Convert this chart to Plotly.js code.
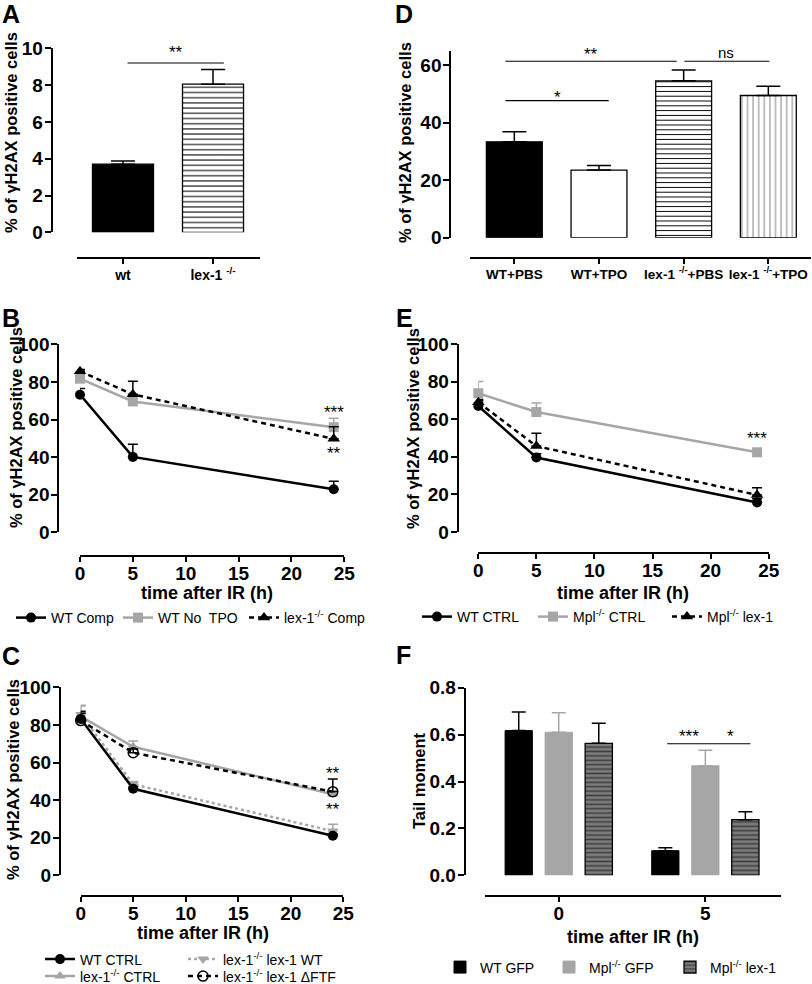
<!DOCTYPE html>
<html><head><meta charset="utf-8">
<script src="https://cdn.plot.ly/plotly-3.0.1.min.js"></script>
<style>html,body{margin:0;padding:0;background:#fff}#chart{width:812px;height:984px}</style>
</head><body><div id="chart"></div>
<script>
// ---------- DATA ----------
const aCats = ['wt', 'lex-1 <sup>-/-</sup>'];
const aMean = [3.7, 8.05];
const aSem = [0.17, 0.8];

const dCats = ['WT+PBS', 'WT+TPO', 'lex-1 <sup>-/-</sup>+PBS', 'lex-1 <sup>-/-</sup>+TPO'];
const dMean = [33.3, 23.5, 54.5, 49.4];
const dSem = [3.5, 1.6, 3.8, 3.2];

const timeH = [0, 5, 24];
const bWtComp = [73.2, 40.1, 22.9];   const bWtCompSem = [3.3, 6.7, 4.2];
const bWtNoTpo = [81.7, 69.6, 55.9];  const bWtNoTpoSem = [1.2, 1.5, 4.8];
const bLexComp = [85.6, 73.4, 49.7];  const bLexCompSem = [1.0, 6.9, 6.5];

const eWtCtrl = [67.0, 39.6, 15.7];   const eWtCtrlSem = [3.0, 2.0, 2.0];
const eMplCtrl = [73.8, 63.8, 42.4];  const eMplCtrlSem = [6.3, 4.8, 1.5];
const eMplLex = [69.0, 45.7, 19.7];   const eMplLexSem = [1.5, 6.8, 3.9];

const cWtCtrl = [83.2, 46.0, 21.0];   const cWtCtrlSem = [3.0, 1.0, 1.0];
const cLexCtrl = [84.5, 68.4, 43.1];  const cLexCtrlSem = [6.0, 3.1, 2.0];
const cLexWt = [85.5, 48.4, 23.5];    const cLexWtSem = [4.5, 1.5, 3.6];
const cLexDftf = [82.3, 65.2, 44.5];  const cLexDftfSem = [5.0, 2.0, 6.7];

const fGroups = ['0', '5'];
const fWtGfp = [0.617, 0.105];  const fWtGfpSem = [0.079, 0.013];
const fMplGfp = [0.610, 0.467]; const fMplGfpSem = [0.083, 0.066];
const fMplLex = [0.563, 0.237]; const fMplLexSem = [0.085, 0.034];

// ---------- HELPERS ----------
const W = 812, H = 984;
const px = v => v / W;
const py = v => 1 - v / H;
const FAM = 'Liberation Sans, Arial, sans-serif';
const GRAY = '#a6a6a6';
const tickFont = {family: FAM, size: 19, color: 'black', weight: 'bold'};
const catFont = {family: FAM, size: 14, color: 'black', weight: 'bold'};
const zeros = n => new Array(n).fill(0);
const errUp = (arr, color, w) => ({type: 'data', symmetric: false, array: arr, arrayminus: zeros(arr.length), color: color, thickness: 1.5, width: w});

function yAx(domTop, domBot, xpos, range, extra) {
  return Object.assign({domain: [py(domBot), py(domTop)], range: range, anchor: 'free', position: px(xpos),
    showline: true, linewidth: 2, linecolor: 'black', ticks: 'outside', ticklen: 6, tickwidth: 2, tickcolor: 'black',
    ticklabelstandoff: -2,
    showgrid: false, zeroline: false, tickfont: tickFont, fixedrange: true}, extra || {});
}
function xAx(l, r, ypos, range, extra) {
  return Object.assign({domain: [px(l), px(r)], range: range, anchor: 'free', position: py(ypos),
    showline: true, linewidth: 2, linecolor: 'black', ticks: 'outside', ticklen: 5, tickwidth: 2, tickcolor: 'black',
    ticklabelstandoff: -5,
    showgrid: false, zeroline: false, tickfont: tickFont, fixedrange: true}, extra || {});
}

const traces = [];
// Panel A (one trace per bar so each keeps its own fill)
const aFill = [{color: 'black'}, {color: 'white', pattern: {shape: '-', fgcolor: 'black', bgcolor: 'white', size: 5.2, solidity: 0.2}}];
aCats.forEach((c, i) => traces.push({type: 'bar', x: [c], y: [aMean[i]], xaxis: 'x', yaxis: 'y', width: 0.678, showlegend: false,
  marker: Object.assign({line: {color: 'black', width: 1.3}}, aFill[i]), error_y: errUp([aSem[i]], 'black', 12)}));
// Panel D
const dFill = [{color: 'black'}, {color: 'white'},
  {color: 'white', pattern: {shape: '-', fgcolor: 'black', bgcolor: 'white', size: 4.8, solidity: 0.2}},
  {color: 'white', pattern: {shape: '|', fgcolor: '#9a9a9a', bgcolor: 'white', size: 5.6, solidity: 0.22}}];
dCats.forEach((c, i) => traces.push({type: 'bar', x: [c], y: [dMean[i]], xaxis: 'x2', yaxis: 'y2', width: 0.66, showlegend: false,
  marker: Object.assign({line: {color: 'black', width: 1.3}}, dFill[i]), error_y: errUp([dSem[i]], 'black', 12)}));

const lineTrace = (x, y, sem, ax, name, legend, color, dash, symbol, msize, extra) => Object.assign({
  type: 'scatter', mode: 'lines+markers', x: x, y: y, xaxis: 'x' + ax, yaxis: 'y' + ax, name: name, legend: legend,
  line: {color: color, width: 2.5, dash: dash}, marker: {symbol: symbol, size: msize, color: color, line: {width: 0}},
  error_y: errUp(sem, color, 5), cliponaxis: false}, extra || {});

// Panel B
traces.push(lineTrace(timeH, bWtNoTpo, bWtNoTpoSem, 3, 'WT No  TPO', 'legend2', GRAY, 'solid', 'square', 10));
traces.push(lineTrace(timeH, bLexComp, bLexCompSem, 3, 'lex-1<sup>-/-</sup> Comp', 'legend3', 'black', '5px,4px', 'triangle-up', 11));
traces.push(lineTrace(timeH, bWtComp, bWtCompSem, 3, 'WT Comp', 'legend', 'black', 'solid', 'circle', 10));
// Panel E
traces.push(lineTrace(timeH, eMplCtrl, eMplCtrlSem, 4, 'Mpl<sup>-/-</sup> CTRL', 'legend5', GRAY, 'solid', 'square', 10));
traces.push(lineTrace(timeH, eMplLex, eMplLexSem, 4, 'Mpl<sup>-/-</sup> lex-1', 'legend6', 'black', '5px,4px', 'triangle-up', 11));
traces.push(lineTrace(timeH, eWtCtrl, eWtCtrlSem, 4, 'WT CTRL', 'legend4', 'black', 'solid', 'circle', 10));
// Panel C
traces.push(lineTrace(timeH, cLexCtrl, cLexCtrlSem, 5, 'lex-1<sup>-/-</sup> CTRL', 'legend9', GRAY, 'solid', 'triangle-up', 10));
traces.push(lineTrace(timeH, cLexWt, cLexWtSem, 5, 'lex-1<sup>-/-</sup> lex-1 WT', 'legend8', GRAY, 'dot', 'triangle-down', 10));
traces.push(lineTrace(timeH, cLexDftf, cLexDftfSem, 5, 'lex-1<sup>-/-</sup> lex-1 ΔFTF', 'legend10', 'black', '5px,4px', 'circle-open', 10,
  {marker: {symbol: 'circle-open', size: 10, color: 'black', line: {width: 1.5, color: 'black'}}}));
traces.push(lineTrace(timeH, cWtCtrl, cWtCtrlSem, 5, 'WT CTRL', 'legend7', 'black', 'solid', 'circle', 10));

// Panel F
traces.push({type: 'bar', x: fGroups, y: fWtGfp, xaxis: 'x6', yaxis: 'y6', name: 'WT GFP', legend: 'legend11',
  width: 0.186, offset: -0.366, marker: {color: 'black', line: {color: 'black', width: 1}}, error_y: errUp(fWtGfpSem, 'black', 7)});
traces.push({type: 'bar', x: fGroups, y: fMplGfp, xaxis: 'x6', yaxis: 'y6', name: 'Mpl<sup>-/-</sup> GFP', legend: 'legend12',
  width: 0.186, offset: -0.093, marker: {color: GRAY, line: {color: GRAY, width: 1}}, error_y: errUp(fMplGfpSem, GRAY, 7)});
traces.push({type: 'bar', x: fGroups, y: fMplLex, xaxis: 'x6', yaxis: 'y6', name: 'Mpl<sup>-/-</sup> lex-1', legend: 'legend13',
  width: 0.186, offset: 0.180, marker: {color: '#7c7c7c', line: {color: 'black', width: 1.3},
    pattern: {shape: '-', fgcolor: 'black', fillmode: 'overlay', size: 4.4, solidity: 0.35}}, error_y: errUp(fMplLexSem, 'black', 7)});

// ---------- ANNOTATIONS ----------
const ann = [];
const letter = (t, x, y) => ann.push({text: t, x: px(x), y: py(y), xref: 'paper', yref: 'paper', showarrow: false,
  xanchor: 'center', yanchor: 'middle', font: {family: FAM, size: 25, color: 'black', weight: 'bold'}});
letter('A', 11, 14); letter('D', 404, 14); letter('B', 11, 318); letter('E', 404, 318); letter('C', 11, 656); letter('F', 403, 655);

const yTitle = (t, x, y) => ann.push({text: t, x: px(x), y: py(y), xref: 'paper', yref: 'paper', showarrow: false, textangle: -90,
  xanchor: 'center', yanchor: 'middle', font: {family: FAM, size: 16.5, color: 'black', weight: 'bold'}});
const Y_T = '% of γH2AX positive cells';
yTitle(Y_T, 11, 133); yTitle(Y_T, 405, 143); yTitle(Y_T, 16, 428); yTitle(Y_T, 413, 428); yTitle(Y_T, 13, 780);
yTitle('Tail moment', 419, 781);

const xTitle = (t, x, y) => ann.push({text: t, x: px(x), y: py(y), xref: 'paper', yref: 'paper', showarrow: false,
  xanchor: 'center', yanchor: 'middle', font: {family: FAM, size: 18, color: 'black', weight: 'bold'}});
xTitle('time after IR (h)', 207, 592.5); xTitle('time after IR (h)', 623, 592.5);
xTitle('time after IR (h)', 203, 933); xTitle('time after IR (h)', 633, 937);

const star = (t, ax, x, y, size) => ann.push({text: t, x: x, y: y, xref: 'x' + ax, yref: 'y' + ax, showarrow: false,
  xanchor: 'center', yanchor: 'middle', font: {family: FAM, size: size || 17, color: 'black'}});
star('**', '', 0.59, 9.75);
star('**', 2, 0.905, 63.5); star('ns', 2, 2.5, 64.5, 15); star('*', 2, 0.504, 48.6);
star('***', 3, 24, 63.5); star('**', 3, 24, 42.0);
star('***', 4, 24, 50.0);
star('**', 5, 24, 54.0); star('**', 5, 24, 35.2);
star('***', 6, 0.887, 0.592); star('*', 6, 1.17, 0.592);

// significance lines
const shapes = [];
const sig = (ax, x0, x1, y) => shapes.push({type: 'line', xref: 'x' + ax, yref: 'y' + ax, x0: x0, x1: x1, y0: y, y1: y,
  line: {color: 'black', width: 1.2}});
sig('', 0.05, 1.12, 9.2);
sig(2, -0.106, 1.918, 61.3); sig(2, 2.008, 3.012, 61.3); sig(2, -0.106, 1.115, 47.6);
sig(6, 0.739, 1.307, 0.561);

const legFont = {family: FAM, size: 14, color: 'black'};
const leg = (x, y) => ({x: px(x), y: py(y), xanchor: 'left', yanchor: 'middle', orientation: 'h',
  font: legFont, bgcolor: 'rgba(0,0,0,0)', borderwidth: 0, itemwidth: 30});

const layout = {
  width: W, height: H, margin: {l: 0, r: 0, t: 0, b: 0, autoexpand: false},
  paper_bgcolor: 'white', plot_bgcolor: 'white', showlegend: true, barmode: 'overlay',
  font: {family: FAM, color: 'black'},
  xaxis: xAx(77, 260, 258, [-0.511, 1.522], {type: 'category', tickfont: catFont, ticklabelstandoff: -1}),
  yaxis: yAx(48.3, 232.3, 51.7, [0, 10], {dtick: 2}),
  xaxis2: xAx(470.3, 811, 257.7, [-0.52, 3.504], {type: 'category', tickfont: Object.assign({}, catFont, {size: 13.5}), ticklabelstandoff: -1}),
  yaxis2: yAx(50.6, 237.7, 450.3, [0, 65], {tickvals: [0, 20, 40, 60]}),
  xaxis3: xAx(80, 344.3, 555.7, [0, 25], {dtick: 5}),
  yaxis3: yAx(344.3, 532.3, 58.3, [0, 100], {dtick: 20}),
  xaxis4: xAx(478.3, 768.7, 553.3, [0, 25], {dtick: 5}),
  yaxis4: yAx(344, 532, 457.7, [0, 100], {dtick: 20}),
  xaxis5: xAx(80.7, 343.3, 896, [0, 25], {dtick: 5}),
  yaxis5: yAx(687.3, 875.3, 60, [0, 100], {dtick: 20}),
  xaxis6: xAx(485, 781, 895.7, [-0.503, 1.516], {type: 'category'}),
  yaxis6: yAx(687.7, 875.3, 464.7, [0, 0.8], {dtick: 0.2, tickformat: '.1f'}),
  legend: leg(11, 618), legend2: leg(118, 618), legend3: leg(244, 618),
  legend4: leg(417, 617), legend5: leg(533, 617), legend6: leg(667, 617),
  legend7: leg(40, 959.5), legend8: leg(183, 959.5), legend9: leg(40, 976.5), legend10: leg(183, 976.5),
  legend11: leg(440, 967.5), legend12: leg(549, 967.5), legend13: leg(670, 967.5),
  annotations: ann,
  shapes: shapes
};

Plotly.newPlot('chart', traces, layout, {displayModeBar: false, staticPlot: true});
</script>
</body></html>
